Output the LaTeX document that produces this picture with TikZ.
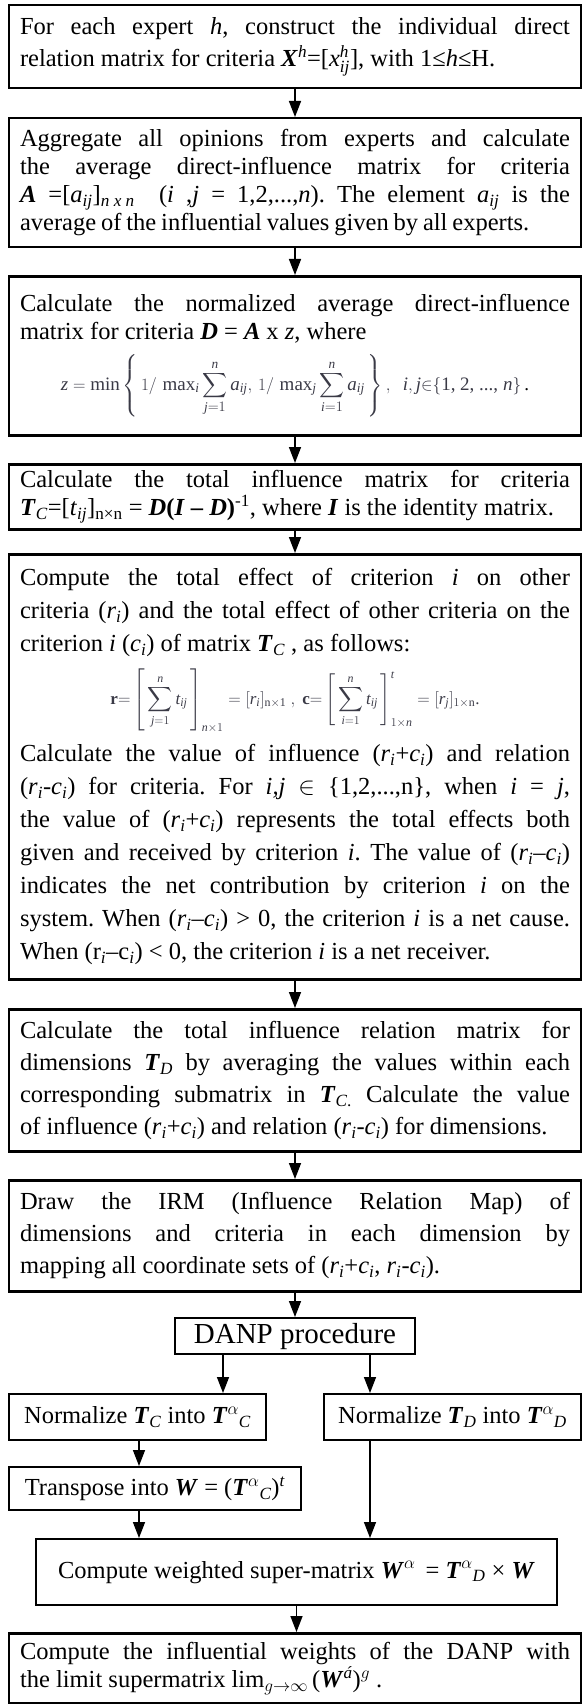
\documentclass[tikz,border=0pt]{standalone}
\usepackage{amsmath}
\usepackage{fontspec}
\setmainfont{Liberation Serif}
\usetikzlibrary{arrows.meta}
\setlength{\parindent}{0pt}
\frenchspacing
\definecolor{eqc}{HTML}{3A3A46}
\newcommand{\bI}[1]{\textbf{\textit{#1}}}
\newcommand{\mysb}[1]{\ensuremath{_{\text{#1}}}}
\newcommand{\mysp}[1]{\ensuremath{^{\text{#1}}}}
\newcommand{\setfs}[1]{\fontsize{24.5}{#1}\selectfont\frenchspacing\hyphenpenalty=10000\exhyphenpenalty=10000}
\newcommand{\rI}{\textit{r}\mysb{\textit{i}}}
\newcommand{\cI}{\textit{c}\mysb{\textit{i}}}
\newcommand{\tI}[1]{\textit{#1}}
\tikzset{
  box/.style={draw, line width=2.5pt, anchor=north, text width=550pt, align=justify,
    inner xsep=11pt, inner ysep=4pt},
  sbox/.style={draw, line width=2.3pt, anchor=north, align=center, inner xsep=4pt,
    inner ysep=2pt, font=\setfs{28}},
  arr/.style={line width=1.5pt, -{Triangle[length=16pt,width=12pt]}},
}
\begin{document}
\begin{tikzpicture}[x=1pt,y=-1pt]
\useasboundingbox (0,0) rectangle (588,1704);

\node[box, font=\setfs{32}, minimum height=83pt] (b1) at (295,4)
{For each expert \textit{h}, construct the individual direct\linebreak
relation matrix for criteria \bI{X}\mysp{\textit{h}}=[\textit{x}$^{\textit{h}}_{\textit{ij}}$], with 1≤\textit{h}≤H.};

\node[box, font=\setfs{28}, minimum height=129pt] (b2) at (295,117)
{Aggregate all opinions from experts and calculate\linebreak
the average direct-influence matrix for criteria\linebreak
\bI{A} =[\textit{a}\mysb{\textit{ij}}]\mysb{\textit{n x n}}\ \ (\textit{i} ,\textit{j} = 1,2,...,\textit{n}). The element \textit{a}\mysb{\textit{ij}} is the\linebreak
{\spaceskip=0.2em plus 0.1em\relax average of the influential values given by all experts.}};

\node[box, font=\setfs{28}, minimum height=159pt] (b3) at (295,275)
{Calculate the normalized average direct-influence\linebreak
matrix for criteria \bI{D} = \bI{A} x \textit{z}, where\par\vspace{10pt}
{\fontsize{19}{21}\selectfont\centerline{\color{eqc}$\displaystyle \tI{z}=\min\left\{\,1/\,\max\nolimits_{\tI{i}}\sum_{\tI{j}=1}^{\tI{n}}\tI{a}_{\tI{ij}},\,1/\,\max\nolimits_{\tI{j}}\sum_{\tI{i}=1}^{\tI{n}}\tI{a}_{\tI{ij}}\,\right\},\ \ \tI{i},\tI{j}{\in}\{\text{1, 2, ..., }\tI{n}\}$\color{black}\,.}}};

\node[box, font=\setfs{28}, minimum height=65pt] (b4) at (295,463)
{Calculate the total influence matrix for criteria\linebreak
\bI{T}\mysb{\textit{C}}=[\textit{t}\mysb{\textit{ij}}]\mysb{n×n} = \bI{D}\textbf{(}\bI{I} \textbf{–} \bI{D}\textbf{)}\mysp{-1}, where \bI{I} is the identity matrix.};

\node[box, font=\setfs{33}, minimum height=425pt] (b5) at (295,553)
{Compute the total effect of criterion \textit{i} on other\linebreak
criteria (\rI) and the total effect of other criteria on the\linebreak
criterion \textit{i} (\cI) of matrix \bI{T}\mysb{\textit{C}} , as follows:\par\vspace{11pt}
{\fontsize{17}{19}\selectfont\centerline{\color{eqc}$\displaystyle \textbf{r}{=}\left[\,\sum_{\tI{j}=1}^{\tI{n}}\tI{t}_{\tI{ij}}\,\right]_{\tI{n}\times1}=[\tI{r}_{\tI{i}}]_{\text{n}\times\text{1}}\ ,\ \textbf{c}{=}\left[\,\sum_{\tI{i}=1}^{\tI{n}}\tI{t}_{\tI{ij}}\,\right]^{\tI{t}}_{1\times\tI{n}}=[\tI{r}_{\tI{j}}]_{1\times\text{n}}\text{.}$}}\par\vspace{11pt}
Calculate the value of influence (\rI+\cI) and relation\linebreak
(\rI-\cI) for criteria. For \textit{i,j} $\in$ \{1,2,...,n\}, when \textit{i} = \textit{j},\linebreak
the value of (\rI+\cI) represents the total effects both\linebreak
given and received by criterion \textit{i}. The value of (\rI–\cI)\linebreak
indicates the net contribution by criterion \textit{i} on the\linebreak
system. When (\rI–\cI) > 0, the criterion \textit{i} is a net cause.\linebreak
When (r\mysb{\textit{i}}–c\mysb{\textit{i}}) < 0, the criterion \textit{i} is a net receiver.};

\node[box, font=\setfs{32}, minimum height=142pt] (b6) at (295,1008)
{Calculate the total influence relation matrix for\linebreak
dimensions \bI{T}\mysb{\textit{D}} by averaging the values within each\linebreak
corresponding submatrix in \bI{T}\mysb{\textit{C}.}\ Calculate the value\linebreak
of influence (\rI+\cI) and relation (\rI-\cI) for dimensions.};

\node[box, font=\setfs{32}, minimum height=111pt] (b7) at (295,1179)
{Draw the IRM (Influence Relation Map) of\linebreak
dimensions and criteria in each dimension by\linebreak
mapping all coordinate sets of (\rI+\cI , \rI-\cI).};

\node[sbox, minimum width=240pt, minimum height=36pt, font=\fontsize{29}{32}\selectfont] (danp) at (295,1317) {DANP procedure};

\node[sbox, minimum width=257pt, minimum height=46pt] (ntc) at (137.5,1393)
{Normalize \bI{T}\mysb{\textit{C}} into \bI{T}$^{\alpha}{}_{\textit{C}}$};
\node[sbox, minimum width=257pt, minimum height=46pt] (ntd) at (452.5,1393)
{Normalize \bI{T}\mysb{\textit{D}} into \bI{T}$^{\alpha}{}_{\textit{D}}$};
\node[sbox, minimum width=292pt, minimum height=43pt] (tr) at (155,1466)
{Transpose into \bI{W} = (\bI{T}$^{\alpha}{}_{\textit{C}}$)\mysp{\textit{t}}};
\node[sbox, minimum width=521pt, minimum height=66pt] (wt) at (296.5,1538)
{Compute weighted super-matrix \bI{W}$^{\alpha}$\ \,= \bI{T}$^{\alpha}{}_{\textit{D}}$ × \bI{W}};

\node[box, font=\setfs{28}, minimum height=70pt] (last) at (295,1632)
{Compute the influential weights of the DANP with\linebreak
the limit supermatrix lim$_{g\to\infty}$\,(\bI{W}\mysp{\textit{á}})$^{g}$ .};

\coordinate (cl) at (223,0);
\coordinate (cr) at (370,0);
\coordinate (cl2) at (139,0);

\draw[arr] (b1.south) -- (b2.north);
\draw[arr] (b2.south) -- (b3.north);
\draw[arr] (b3.south) -- (b4.north);
\draw[arr] (b4.south) -- (b5.north);
\draw[arr] (b5.south) -- (b6.north);
\draw[arr] (b6.south) -- (b7.north);
\draw[arr] (b7.south) -- (danp.north);
\draw[arr] (danp.south -| cl) -- (ntc.north -| cl);
\draw[arr] (danp.south -| cr) -- (ntd.north -| cr);
\draw[arr] (ntc.south -| cl2) -- (tr.north -| cl2);
\draw[arr] (tr.south -| cl2) -- (wt.north -| cl2);
\draw[arr] (ntd.south -| cr) -- (wt.north -| cr);
\draw[arr] (wt.south) -- (last.north -| wt.south);
\end{tikzpicture}
\end{document}
